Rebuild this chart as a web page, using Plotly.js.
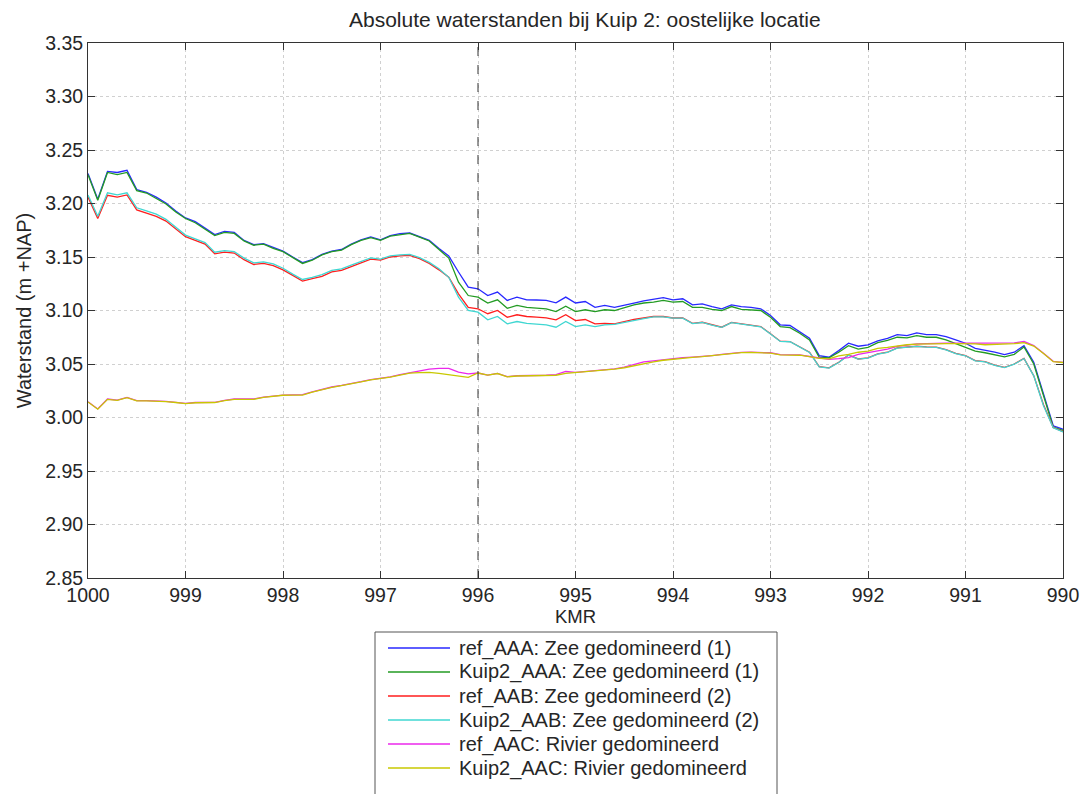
<!DOCTYPE html>
<html>
<head>
<meta charset="utf-8">
<script src="https://cdn.plot.ly/plotly-3.0.1.min.js"></script>
<style>html,body{margin:0;padding:0;background:#fff;}#chart{width:1085px;height:794px;}</style>
</head>
<body>
<div id="chart"></div>
<script>
const KMR = [1000.0,999.9,999.8,999.7,999.6,999.5,999.4,999.3,999.2,999.1,
 999.0,998.9,998.8,998.7,998.6,998.5,998.4,998.3,998.2,998.1,
 998.0,997.9,997.8,997.7,997.6,997.5,997.4,997.3,997.2,997.1,
 997.0,996.9,996.8,996.7,996.6,996.5,996.4,996.3,996.2,996.1,
 996.0,995.9,995.8,995.7,995.6,995.5,995.4,995.3,995.2,995.1,
 995.0,994.9,994.8,994.7,994.6,994.5,994.4,994.3,994.2,994.1,
 994.0,993.9,993.8,993.7,993.6,993.5,993.4,993.3,993.2,993.1,
 993.0,992.9,992.8,992.7,992.6,992.5,992.4,992.3,992.2,992.1,
 992.0,991.9,991.8,991.7,991.6,991.5,991.4,991.3,991.2,991.1,
 991.0,990.9,990.8,990.7,990.6,990.5,990.4,990.3,990.2,990.1,990.0];

const ref_AAA = [3.228,3.204,3.230,3.229,3.231,3.213,3.2105,3.206,3.2005,3.193,
 3.1865,3.183,3.177,3.171,3.174,3.173,3.1655,3.1615,3.1625,3.159,
 3.1555,3.150,3.1447,3.1475,3.1525,3.1555,3.157,3.162,3.166,3.1687,
 3.166,3.170,3.1718,3.1724,3.169,3.1655,3.158,3.151,3.136,3.1218,
 3.1203,3.114,3.1172,3.1094,3.1125,3.110,3.1098,3.1094,3.1072,3.1125,
 3.107,3.1084,3.103,3.1047,3.103,3.1053,3.107,3.109,3.1103,3.112,
 3.110,3.111,3.1053,3.1062,3.1037,3.1016,3.1053,3.1037,3.103,3.1016,
 3.0953,3.0866,3.086,3.0803,3.074,3.0579,3.0563,3.0625,3.0694,3.0666,
 3.0678,3.0715,3.074,3.0775,3.0766,3.079,3.0775,3.0775,3.0755,3.0725,
 3.0694,3.0647,3.0632,3.061,3.0588,3.061,3.0672,3.0516,3.022,2.9923,2.989];

const kuip2_AAA = [3.227,3.203,3.229,3.227,3.229,3.212,3.2098,3.205,3.1995,3.192,
 3.186,3.182,3.176,3.170,3.173,3.172,3.165,3.161,3.162,3.158,
 3.155,3.1495,3.144,3.147,3.152,3.155,3.1565,3.1615,3.1655,3.168,
 3.1655,3.1695,3.171,3.172,3.1685,3.165,3.157,3.149,3.1265,3.114,
 3.1125,3.107,3.110,3.102,3.1047,3.103,3.1023,3.1016,3.099,3.104,
 3.099,3.1007,3.099,3.1007,3.100,3.103,3.1053,3.107,3.1078,3.1094,
 3.1078,3.1084,3.103,3.103,3.101,3.100,3.1037,3.101,3.1005,3.100,
 3.0937,3.085,3.084,3.0787,3.0725,3.0563,3.0557,3.061,3.0672,3.064,
 3.0655,3.070,3.072,3.075,3.0745,3.0766,3.075,3.075,3.0725,3.069,
 3.0656,3.062,3.0605,3.0585,3.0566,3.059,3.066,3.050,3.020,2.991,2.988];

const ref_AAB = [3.206,3.186,3.2077,3.206,3.208,3.194,3.191,3.188,3.1836,3.1765,
 3.169,3.1655,3.162,3.153,3.1546,3.1537,3.1475,3.143,3.144,3.142,
 3.138,3.1328,3.1275,3.1297,3.132,3.136,3.1375,3.141,3.1447,3.148,
 3.147,3.150,3.151,3.1515,3.1484,3.144,3.138,3.1312,3.1156,3.103,
 3.1016,3.097,3.100,3.0937,3.096,3.0944,3.0938,3.0932,3.0913,3.096,
 3.0906,3.0916,3.0875,3.088,3.0875,3.0897,3.0916,3.093,3.0944,3.0944,
 3.093,3.093,3.088,3.089,3.0866,3.0844,3.0888,3.0875,3.0866,3.085,
 3.0782,3.0713,3.071,3.0663,3.061,3.0476,3.0464,3.0516,3.0585,3.0547,
 3.0557,3.0594,3.061,3.065,3.0655,3.0666,3.066,3.0657,3.0635,3.060,
 3.0579,3.0532,3.0522,3.049,3.0469,3.050,3.0553,3.0391,3.012,2.9907,2.9867];

const kuip2_AAB = [3.208,3.188,3.210,3.208,3.210,3.196,3.193,3.190,3.1852,3.178,
 3.1705,3.167,3.1635,3.1545,3.156,3.155,3.149,3.1445,3.1455,3.1435,
 3.1395,3.134,3.129,3.131,3.1335,3.1375,3.139,3.1425,3.146,3.1492,
 3.148,3.151,3.152,3.1525,3.1494,3.145,3.139,3.131,3.1125,3.100,
 3.0984,3.0913,3.0944,3.0875,3.0897,3.088,3.0873,3.0866,3.0844,3.0897,
 3.085,3.0866,3.085,3.0866,3.087,3.089,3.091,3.0925,3.094,3.094,
 3.0928,3.0928,3.0878,3.0888,3.0864,3.0842,3.0886,3.0873,3.0864,3.0848,
 3.078,3.0711,3.0708,3.0661,3.0608,3.0474,3.0462,3.0514,3.0583,3.0545,
 3.0555,3.0592,3.0608,3.0648,3.0653,3.0664,3.0658,3.0655,3.0633,3.0598,
 3.0577,3.053,3.052,3.0488,3.0467,3.0498,3.0551,3.0389,3.011,2.9905,2.9865];

const ref_AAC = [3.0148,3.008,3.0173,3.0163,3.0188,3.0157,3.0157,3.0157,3.015,3.0142,
 3.0132,3.014,3.0142,3.0142,3.016,3.0173,3.0173,3.0173,3.019,3.020,
 3.021,3.0212,3.0213,3.024,3.0265,3.0285,3.030,3.0315,3.0335,3.0355,
 3.0366,3.038,3.040,3.0418,3.043,3.0452,3.046,3.046,3.0425,3.0407,
 3.0416,3.0397,3.0413,3.0382,3.039,3.039,3.039,3.0395,3.040,3.043,
 3.0422,3.043,3.0438,3.045,3.0455,3.047,3.0495,3.052,3.053,3.0541,
 3.055,3.056,3.0565,3.057,3.0579,3.059,3.060,3.0608,3.061,3.061,
 3.0605,3.0588,3.0587,3.0585,3.057,3.0555,3.0544,3.055,3.056,3.059,
 3.0605,3.062,3.064,3.0665,3.0675,3.0688,3.069,3.0694,3.0694,3.0694,
 3.0694,3.0694,3.0694,3.069,3.069,3.0697,3.071,3.0672,3.060,3.0525,3.0516];

const kuip2_AAC = [3.0145,3.0078,3.017,3.016,3.0185,3.0155,3.0155,3.0155,3.0148,3.014,
 3.013,3.0138,3.014,3.014,3.0158,3.017,3.017,3.017,3.0188,3.0198,
 3.0208,3.021,3.021,3.0238,3.0262,3.0282,3.0298,3.0312,3.0332,3.0352,
 3.0364,3.0378,3.0396,3.0415,3.042,3.0422,3.0413,3.040,3.039,3.0375,
 3.0416,3.0397,3.0411,3.038,3.0388,3.0388,3.0388,3.039,3.0395,3.0413,
 3.042,3.0428,3.0436,3.0447,3.0452,3.0465,3.0485,3.0507,3.052,3.0535,
 3.0545,3.0555,3.0562,3.0568,3.0577,3.0588,3.0598,3.0606,3.0608,3.0608,
 3.0602,3.0586,3.0585,3.0582,3.0568,3.0553,3.0548,3.0575,3.059,3.061,
 3.062,3.0647,3.0655,3.067,3.068,3.0685,3.0688,3.069,3.069,3.069,
 3.069,3.0688,3.068,3.0682,3.0685,3.069,3.070,3.0668,3.0598,3.0522,3.0514];

const seriesNames = ['ref_AAA: Zee gedomineerd (1)','Kuip2_AAA: Zee gedomineerd (1)',
 'ref_AAB: Zee gedomineerd (2)','Kuip2_AAB: Zee gedomineerd (2)',
 'ref_AAC: Rivier gedomineerd','Kuip2_AAC: Rivier gedomineerd'];
const seriesColors = ['rgb(40,40,255)','rgb(35,155,35)','rgb(255,30,30)','rgb(64,215,210)','rgb(235,40,235)','rgb(200,200,0)'];
const seriesData = [ref_AAA,kuip2_AAA,ref_AAB,kuip2_AAB,ref_AAC,kuip2_AAC];
const markerKMR = [996];
const yTicks = [2.85,2.90,2.95,3.00,3.05,3.10,3.15,3.20,3.25,3.30,3.35];
const xTicks = [1000,999,998,997,996,995,994,993,992,991,990];

const W = 1085, H = 794;
const M = {l:88, r:22, t:43, b:216};
const PW = W - M.l - M.r, PH = H - M.t - M.b;
// pixel -> paper helpers (layout only)
const px = v => (v - M.l) / PW;
const py = v => (H - M.b - v) / PH;

const traces = seriesData.map((ys,i)=>({
  x: KMR, y: ys, type:'scatter', mode:'lines', name: seriesNames[i],
  line:{color:seriesColors[i], width:1.3}, showlegend:false
}));

const FONT = 'Liberation Sans, Arial, sans-serif';
const TXT = '#262626';
const axisCommon = {
  showline:true, mirror:'allticks', linecolor:'#333', linewidth:1,
  ticks:'inside', ticklen:7, tickcolor:'#333',
  showgrid:true, gridcolor:'#d0d0d0', griddash:'dot', gridwidth:1,
  zeroline:false, tickfont:{family:FONT, size:19.5, color:TXT}
};

// legend box (drawn with shapes + annotations to match row spacing)
const shapes = markerKMR.map(k=>({type:'line', xref:'x', yref:'paper', x0:k, x1:k, y0:0, y1:1,
    line:{color:'#333', width:1, dash:'dash'}}));
shapes.push({type:'rect', xref:'paper', yref:'paper', x0:px(375), x1:px(777), y0:py(632), y1:py(806),
  line:{color:'#555', width:1}, fillcolor:'#fff', layer:'above'});
const annotations = [{text:'KMR', xref:'paper', yref:'paper', x:0.5, y:py(616), xanchor:'center', yanchor:'middle',
  showarrow:false, font:{family:FONT, size:18.5, color:TXT}}];
seriesNames.forEach((name,i)=>{
  const rowY = 648 + 24*i;
  shapes.push({type:'line', xref:'paper', yref:'paper', x0:px(388), x1:px(450), y0:py(rowY), y1:py(rowY),
    line:{color:seriesColors[i], width:1.3}, layer:'above'});
  annotations.push({text:name, xref:'paper', yref:'paper', x:px(457), y:py(rowY), xanchor:'left', yanchor:'middle',
    showarrow:false, font:{family:FONT, size:20, color:TXT}});
});

const layout = {
  width:W, height:H,
  margin:{l:M.l, r:M.r, t:M.t, b:M.b, autoexpand:false},
  paper_bgcolor:'#fff', plot_bgcolor:'#fff',
  font:{family:FONT, color:TXT},
  title:{text:'Absolute waterstanden bij Kuip 2: oostelijke locatie', x:0.539, xanchor:'center', y:0.975, yanchor:'middle', font:{size:21, color:TXT}},
  xaxis: Object.assign({}, axisCommon, {
    range:[1000,990], tickvals:xTicks, ticktext:xTicks.map(String), ticklabelstandoff:0
  }),
  yaxis: Object.assign({}, axisCommon, {
    range:[2.85,3.35], tickvals:yTicks, ticktext:yTicks.map(v=>v.toFixed(2)),
    title:{text:'Waterstand (m +NAP)', standoff:8, font:{size:20, color:TXT}}
  }),
  showlegend:false,
  shapes: shapes,
  annotations: annotations
};

Plotly.newPlot('chart', traces, layout, {displayModeBar:false, staticPlot:true});
</script>
</body>
</html>
